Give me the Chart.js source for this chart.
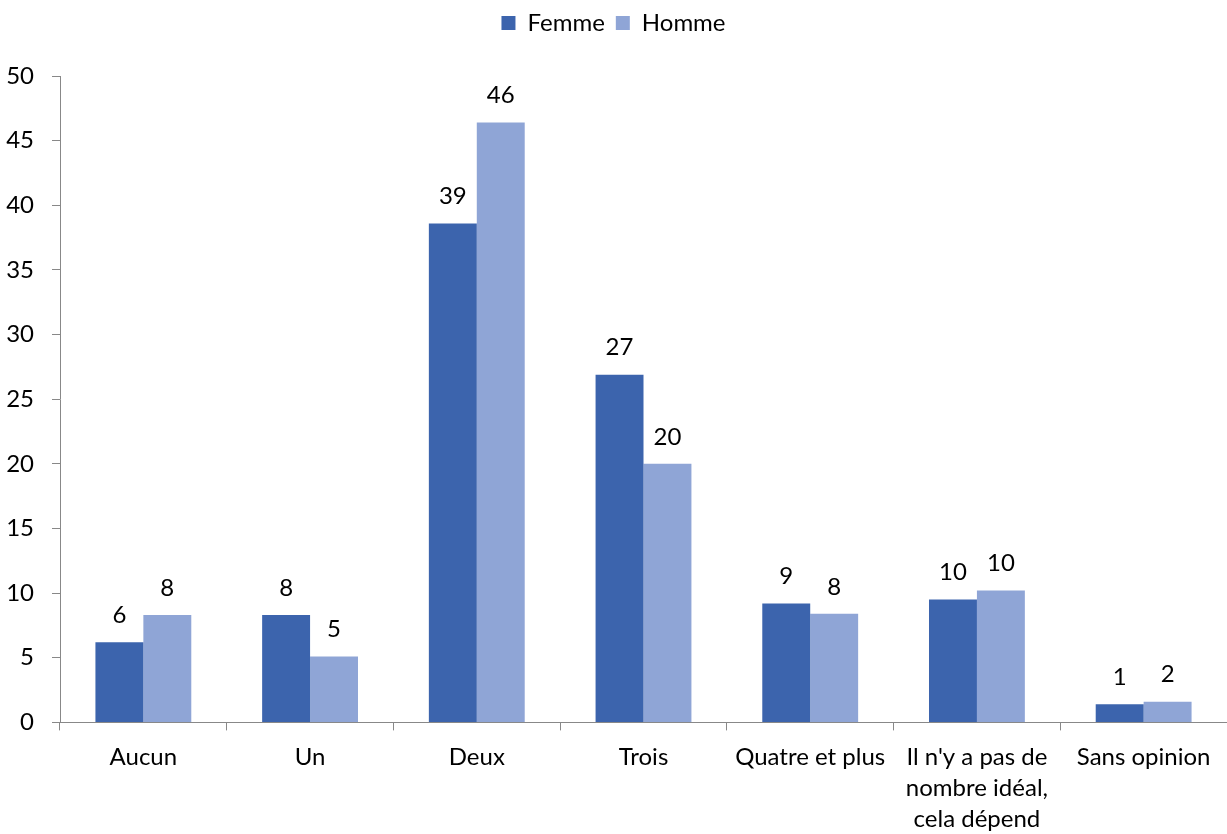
<!DOCTYPE html>
<html>
<head>
<meta charset="utf-8">
<script src="https://cdn.jsdelivr.net/npm/chart.js@4"></script>
<style>
  body { margin: 0; background: #fff; }
  #wrap { width: 1227px; height: 834px; }
</style>
</head>
<body>
<div id="wrap"><canvas id="myChart"></canvas></div>
<script>
var categories = ["Aucun", "Un", "Deux", "Trois", "Quatre et plus",
  ["Il n'y a pas de", "nombre idéal,", "cela dépend"], "Sans opinion"];
var femme = [6.2, 8.3, 38.6, 26.9, 9.2, 9.5, 1.4];
var homme = [8.3, 5.1, 46.4, 20.0, 8.4, 10.2, 1.6];
var yTicks = [0, 5, 10, 15, 20, 25, 30, 35, 40, 45, 50];

var fontFamily = "Lato, 'Open Sans', sans-serif";
var fontSize = 24;

// draws rounded value above each bar
var barLabels = {
  id: 'barLabels',
  afterDatasetsDraw: function(chart) {
    var ctx = chart.ctx;
    ctx.save();
    ctx.font = fontSize + "px " + fontFamily;
    ctx.fillStyle = "#000";
    ctx.textAlign = "center";
    ctx.textBaseline = "middle";
    chart.data.datasets.forEach(function(ds, i) {
      chart.getDatasetMeta(i).data.forEach(function(bar, j) {
        ctx.fillText(Math.round(ds.data[j]), bar.x, bar.y - 27);
      });
    });
    ctx.restore();
  }
};

// leave more room under the legend
var legendGap = {
  id: 'legendGap',
  beforeLayout: function(chart) {
    var lg = chart.legend;
    if (lg && !lg._gapPatched) {
      var orig = lg.fit;
      lg.fit = function() {
        orig.call(this);
        this.height += 31;
      };
      lg._gapPatched = true;
    }
  }
};

var myChart = new Chart(document.getElementById("myChart"), {
  type: 'bar',
  data: {
    labels: categories,
    datasets: [{
      label: 'Femme',
      data: femme,
      backgroundColor: "#3c64ad"
    }, {
      label: 'Homme',
      data: homme,
      backgroundColor: "#8fa5d6"
    }]
  },
  options: {
    responsive: true,
    maintainAspectRatio: false,
    animation: false,
    layout: { padding: { left: 0, right: 0, top: 0, bottom: -12 } },
    datasets: { bar: { barPercentage: 1, categoryPercentage: 0.575 } },
    plugins: {
      legend: {
        position: 'top',
        labels: {
          font: { size: fontSize, family: fontFamily },
          color: "#000",
          boxWidth: 14,
          boxHeight: 14,
          padding: 11
        }
      },
      tooltip: { enabled: false }
    },
    scales: {
      x: {
        grid: { drawOnChartArea: false, drawTicks: true, tickLength: 8, color: "#888" },
        border: { display: true, color: "#888" },
        ticks: {
          font: { size: fontSize, family: fontFamily, lineHeight: 1.3 },
          color: "#000",
          maxRotation: 0,
          autoSkip: false,
          padding: 11
        }
      },
      y: {
        min: 0,
        max: 50,
        afterBuildTicks: function(axis) {
          axis.ticks = yTicks.map(function(v) { return { value: v }; });
        },
        afterFit: function(axis) { axis.width = 60; },
        grid: { drawOnChartArea: false, drawTicks: true, tickLength: 8, color: "#888" },
        border: { display: true, color: "#888" },
        ticks: {
          font: { size: fontSize, family: fontFamily },
          color: "#000",
          padding: 18
        }
      }
    }
  },
  plugins: [barLabels, legendGap]
});
</script>
</body>
</html>
